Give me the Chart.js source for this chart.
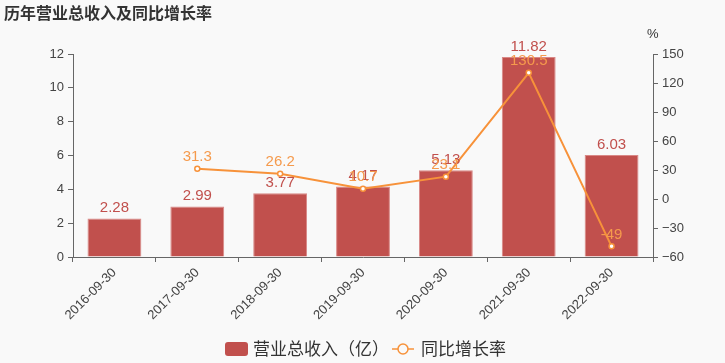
<!DOCTYPE html>
<html>
<head>
<meta charset="utf-8">
<script src="https://cdn.jsdelivr.net/npm/chart.js@4.4.0/dist/chart.umd.min.js"></script>
<style>
  html, body { margin: 0; padding: 0; background: #f9f9f9; }
  #wrap { width: 725px; height: 363px; }
</style>
</head>
<body>
<div id="wrap"><canvas id="chart" width="725" height="363"></canvas></div>
<script>
var categories = ["2016-09-30", "2017-09-30", "2018-09-30", "2019-09-30", "2020-09-30", "2021-09-30", "2022-09-30"];
var revenue = [2.28, 2.99, 3.77, 4.17, 5.13, 11.82, 6.03];
var growth = [null, 31.3, 26.2, 10.7, 23.1, 130.5, -49];
var leftTicks = [0, 2, 4, 6, 8, 10, 12];
var rightTicks = [-60, -30, 0, 30, 60, 90, 120, 150];

var barColor = "#c1504d";
var lineColor = "#f7923a";
var fontName = "'Liberation Sans', 'Noto Sans CJK SC', sans-serif";
var cjkFont = "'Noto Sans CJK SC', 'Liberation Sans', sans-serif";

// value labels above bars and points
var labelPlugin = {
  id: "valueLabels",
  afterDatasetsDraw: function (chart) {
    var ctx = chart.ctx;
    ctx.save();
    ctx.font = "15px " + fontName;
    ctx.textAlign = "center";
    ctx.textBaseline = "bottom";
    chart.getDatasetMeta(1).data.forEach(function (bar, i) {
      ctx.fillStyle = barColor;
      ctx.fillText(revenue[i].toFixed(2), bar.x, bar.y - 3);
    });
    chart.getDatasetMeta(0).data.forEach(function (pt, i) {
      if (growth[i] === null) return;
      ctx.fillStyle = "#f59a4c";
      ctx.fillText(String(growth[i]), pt.x, pt.y - 4);
    });
    ctx.restore();
  }
};

// title, unit and legend
var decorPlugin = {
  id: "decor",
  afterDraw: function (chart) {
    var ctx = chart.ctx;
    ctx.save();
    ctx.fillStyle = "#333";
    ctx.font = "bold 16px " + cjkFont;
    ctx.textBaseline = "middle";
    ctx.textAlign = "left";
    ctx.fillText("历年营业总收入及同比增长率", 4, 13);

    ctx.font = "13px " + fontName;
    ctx.fillStyle = "#333";
    ctx.fillText("%", 647, 34);

    // legend
    var ly = 349;
    ctx.fillStyle = barColor;
    ctx.beginPath();
    ctx.roundRect(225, ly - 7, 23, 14, 3);
    ctx.fill();
    ctx.fillStyle = "#333";
    ctx.font = "17px " + cjkFont;
    ctx.fillText("营业总收入（亿）", 253, ly);

    ctx.strokeStyle = lineColor;
    ctx.lineWidth = 1.5;
    ctx.beginPath();
    ctx.moveTo(392, ly);
    ctx.lineTo(414, ly);
    ctx.stroke();
    ctx.beginPath();
    ctx.arc(403, ly, 5, 0, Math.PI * 2);
    ctx.fillStyle = "#f9f9f9";
    ctx.fill();
    ctx.stroke();
    ctx.fillStyle = "#333";
    ctx.fillText("同比增长率", 421, ly);
    ctx.restore();
  }
};

var bgPlugin = {
  id: "bg",
  beforeDraw: function (chart) {
    var ctx = chart.ctx;
    ctx.save();
    ctx.fillStyle = "#f9f9f9";
    ctx.fillRect(0, 0, chart.width, chart.height);
    ctx.restore();
  }
};

new Chart(document.getElementById("chart"), {
  data: {
    labels: categories,
    datasets: [
      {
        type: "line",
        label: "同比增长率",
        data: growth,
        yAxisID: "y1",
        borderColor: lineColor,
        borderWidth: 2,
        pointRadius: 2.5,
        pointBackgroundColor: "#fff",
        pointBorderColor: lineColor,
        pointBorderWidth: 1.5,
        tension: 0,
        spanGaps: false,
        order: 0
      },
      {
        type: "bar",
        label: "营业总收入（亿）",
        data: revenue,
        yAxisID: "y",
        backgroundColor: barColor,
        borderColor: "#d98886",
        borderWidth: 1,
        categoryPercentage: 0.65,
        barPercentage: 1,
        order: 1
      }
    ]
  },
  options: {
    responsive: false,
    animation: false,
    layout: { padding: { top: 54, left: 0, right: 0, bottom: 0 } },
    plugins: {
      legend: { display: false },
      tooltip: { enabled: false }
    },
    scales: {
      x: {
        grid: { display: true, drawOnChartArea: false, offset: true, color: "#666", tickLength: 5 },
        border: { color: "#666" },
        ticks: {
          minRotation: 45, maxRotation: 45,
          color: "#444",
          font: { size: 13, family: fontName },
          padding: 3
        },
        afterFit: function (scale) { scale.height = 106; }
      },
      y: {
        position: "left",
        min: 0, max: 12,
        afterBuildTicks: function (scale) {
          scale.ticks = leftTicks.map(function (v) { return { value: v }; });
        },
        grid: { display: true, drawOnChartArea: false, color: "#666", tickLength: 5 },
        border: { color: "#666" },
        ticks: { color: "#444", font: { size: 13, family: fontName }, padding: 4 },
        afterFit: function (scale) { scale.width = 73; }
      },
      y1: {
        position: "right",
        min: -60, max: 150,
        afterBuildTicks: function (scale) {
          scale.ticks = rightTicks.map(function (v) { return { value: v }; });
        },
        grid: { display: true, drawOnChartArea: false, color: "#666", tickLength: 5 },
        border: { color: "#666" },
        ticks: {
          color: "#444", font: { size: 13, family: fontName }, padding: 4,
          callback: function (v) { return v < 0 ? "\u2212" + Math.abs(v) : v; }
        },
        afterFit: function (scale) { scale.width = 72; }
      }
    }
  },
  plugins: [bgPlugin, labelPlugin, decorPlugin]
});
</script>
</body>
</html>
